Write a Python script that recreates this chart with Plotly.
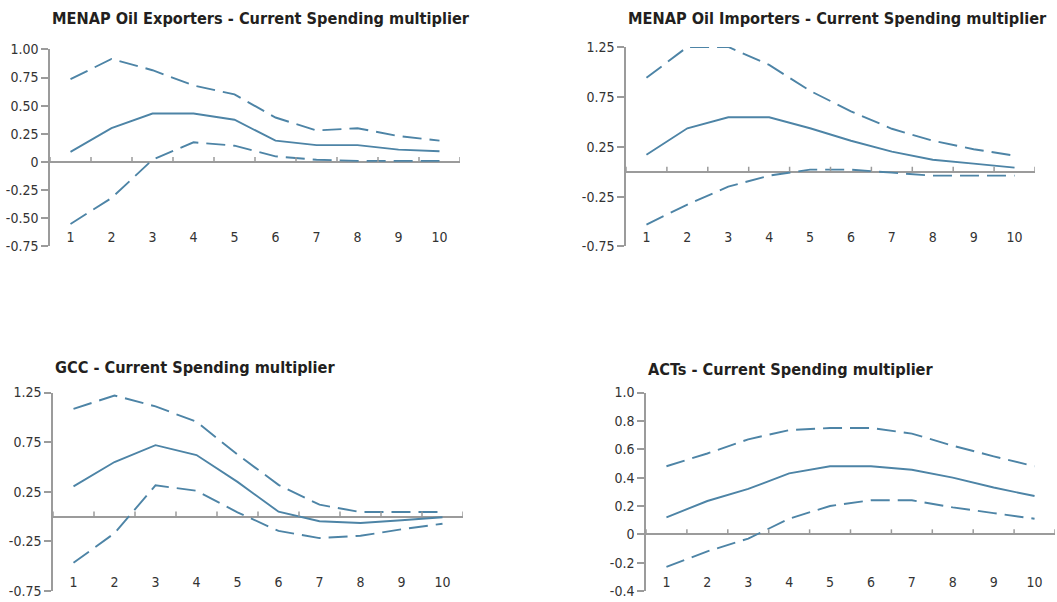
import plotly.graph_objects as go

# ---------------- data ----------------
periods = list(range(1, 11))
period_labels = [str(p) for p in periods]

titles = [
    "MENAP Oil Exporters - Current Spending multiplier",
    "MENAP Oil Importers - Current Spending multiplier",
    "GCC - Current Spending multiplier",
    "ACTs - Current Spending multiplier",
]

exp_mid = [0.09, 0.30, 0.43, 0.43, 0.375, 0.19, 0.15, 0.15, 0.11, 0.095]
exp_up = [0.735, 0.915, 0.815, 0.68, 0.60, 0.395, 0.28, 0.30, 0.23, 0.19]
exp_lo = [-0.55, -0.32, 0.02, 0.175, 0.145, 0.05, 0.02, 0.01, 0.01, 0.01]

imp_mid = [0.17, 0.435, 0.545, 0.545, 0.435, 0.31, 0.20, 0.12, 0.08, 0.04]
imp_up = [0.94, 1.25, 1.25, 1.07, 0.81, 0.605, 0.43, 0.31, 0.225, 0.16]
imp_lo = [-0.53, -0.33, -0.15, -0.04, 0.02, 0.02, -0.01, -0.04, -0.04, -0.04]

gcc_mid = [0.305, 0.55, 0.72, 0.62, 0.35, 0.05, -0.046, -0.065, -0.036, -0.007]
gcc_up = [1.085, 1.22, 1.11, 0.955, 0.625, 0.32, 0.12, 0.046, 0.046, 0.046]
gcc_lo = [-0.465, -0.167, 0.315, 0.26, 0.043, -0.144, -0.216, -0.193, -0.128, -0.072]

act_mid = [0.12, 0.235, 0.32, 0.43, 0.48, 0.48, 0.455, 0.40, 0.33, 0.27]
act_up = [0.48, 0.57, 0.67, 0.735, 0.75, 0.75, 0.71, 0.625, 0.55, 0.48]
act_lo = [-0.23, -0.12, -0.03, 0.11, 0.20, 0.24, 0.24, 0.19, 0.15, 0.11]

exp_ticks = [-0.75, -0.5, -0.25, 0, 0.25, 0.5, 0.75, 1.0]
exp_ticktext = ["-0.75", "-0.50", "-0.25", "0", "0.25", "0.50", "0.75", "1.00"]
imp_ticks = [-0.75, -0.25, 0.25, 0.75, 1.25]
imp_ticktext = ["-0.75", "-0.25", "0.25", "0.75", "1.25"]
gcc_ticks = [-0.75, -0.25, 0.25, 0.75, 1.25]
gcc_ticktext = ["-0.75", "-0.25", "0.25", "0.75", "1.25"]
act_ticks = [-0.4, -0.2, 0, 0.2, 0.4, 0.6, 0.8, 1.0]
act_ticktext = ["-0.4", "-0.2", "0", "0.2", "0.4", "0.6", "0.8", "1.0"]

series = [
    (exp_mid, exp_up, exp_lo, exp_ticks, exp_ticktext),
    (imp_mid, imp_up, imp_lo, imp_ticks, imp_ticktext),
    (gcc_mid, gcc_up, gcc_lo, gcc_ticks, gcc_ticktext),
    (act_mid, act_up, act_lo, act_ticks, act_ticktext),
]

# ---------------- layout (pixels) ----------------
W, H = 1057, 602
# x0, x1, y_top, y_bottom, title_y
boxes = [
    (50, 460, 42.5, 245, 11),
    (626, 1035, 40, 245, 11),
    (53, 463, 395, 599, 369),
    (646, 1055, 395, 599, 371),
]

LINE = "#4d84a6"
AXIS = "#9b9b9b"
TXT = "#333333"
TICKFONT = dict(family="DejaVu Sans Condensed, sans-serif", size=14, color=TXT)
TITLEFONT = dict(family="DejaVu Sans Condensed, sans-serif", size=16.2, color="#231f20")

cat_edges = [p - 0.5 for p in periods] + [periods[-1] + 0.5]

fig = go.Figure()
layout = dict(
    width=W, height=H,
    margin=dict(l=0, r=0, t=0, b=0),
    paper_bgcolor="white", plot_bgcolor="white",
    showlegend=False,
    annotations=[],
    shapes=[],
)

for i, ((mid, up, lo, yt, ytt), (x0, x1, yt_px, yb_px, ty)) in enumerate(zip(series, boxes), start=1):
    ymin, ymax = min(yt), max(yt)
    sfx = "" if i == 1 else str(i)
    xref, yref = "x" + sfx, "y" + sfx
    layout["xaxis" + sfx] = dict(
        domain=[x0 / W, x1 / W], range=[0.5, 10.5],
        anchor="free", position=1 - (yb_px - 20) / H,
        tickvals=periods, ticktext=period_labels,
        showline=False, ticks="", showgrid=False, zeroline=False,
        tickfont=TICKFONT, fixedrange=True,
    )
    layout["yaxis" + sfx] = dict(
        domain=[1 - yb_px / H, 1 - yt_px / H], range=[ymin, ymax], anchor=xref,
        tickvals=yt, ticktext=ytt,
        showline=True, linecolor=AXIS, linewidth=1.5,
        ticks="outside", ticklen=7, tickwidth=1.5, tickcolor=AXIS,
        showgrid=False, zeroline=True, zerolinecolor=AXIS, zerolinewidth=1.5,
        tickfont=TICKFONT, fixedrange=True,
    )
    # tick marks along the zero line at category boundaries
    for e in cat_edges:
        layout["shapes"].append(dict(
            type="line", xref=xref, yref=yref, ysizemode="pixel", yanchor=0,
            x0=e, x1=e, y0=0, y1=5, line=dict(color=AXIS, width=1.5),
        ))
    for vals, dash in ((up, "19px,8px"), (mid, "solid"), (lo, "19px,8px")):
        fig.add_trace(go.Scatter(
            x=periods, y=vals, mode="lines",
            line=dict(color=LINE, width=1.9, dash=dash),
            xaxis=xref, yaxis=yref, hoverinfo="skip", cliponaxis=False,
        ))
    layout["annotations"].append(dict(
        text=f"<b>{titles[i - 1]}</b>", xref="paper", yref="paper",
        x=x0 / W, y=1 - ty / H, xanchor="left", yanchor="middle",
        showarrow=False, font=TITLEFONT,
    ))

fig.update_layout(**layout)
fig.write_html(
    "out.html",
    config={"displayModeBar": False},
    post_script="document.body.style.margin='0';document.body.style.overflow='hidden';",
)
